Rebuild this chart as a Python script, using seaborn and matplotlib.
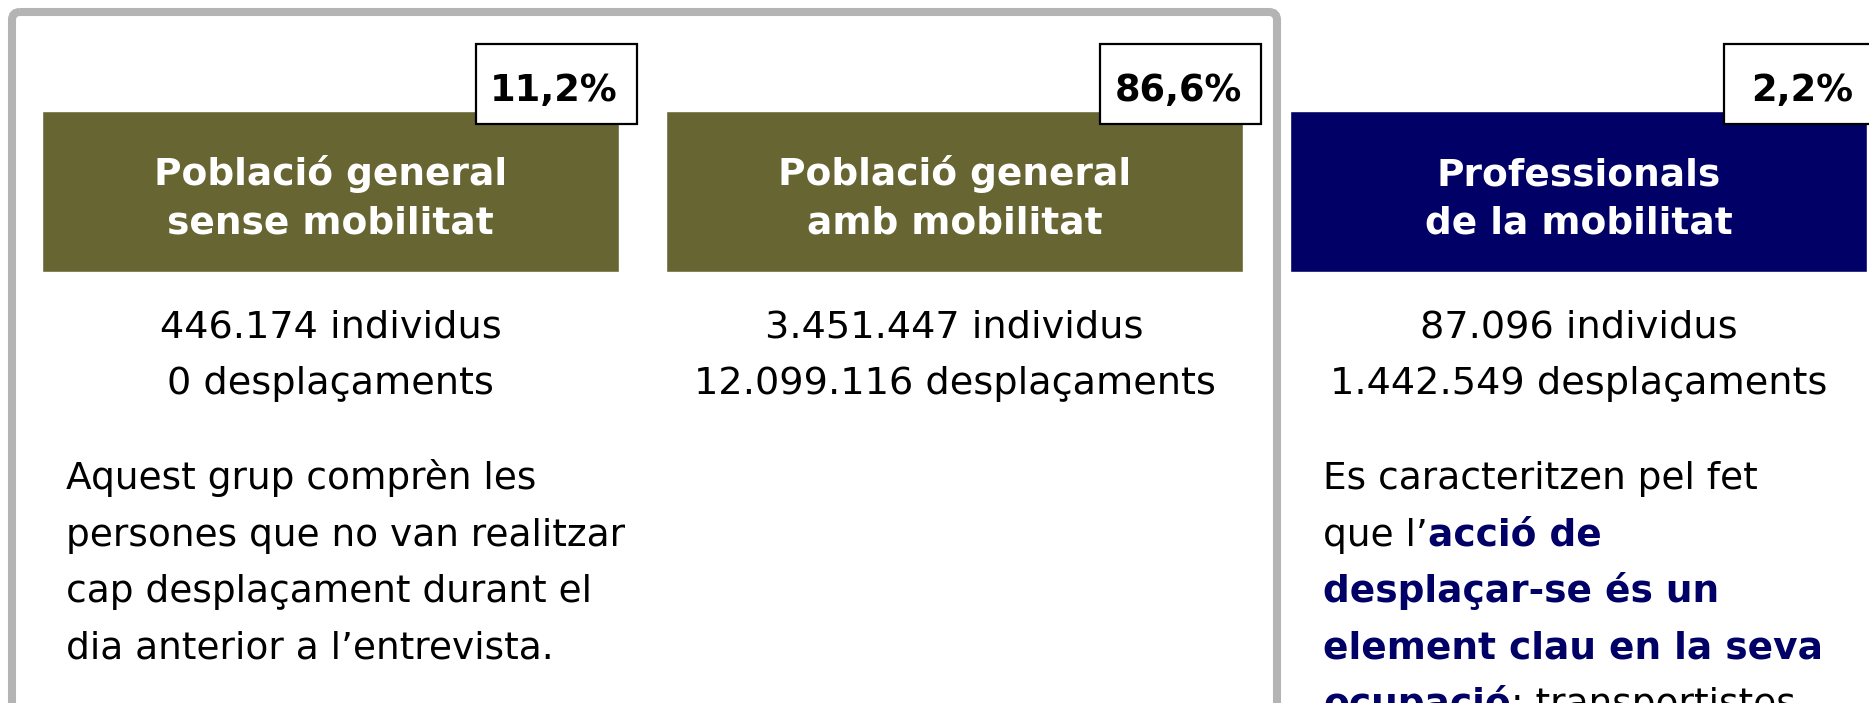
import matplotlib
matplotlib.use("Agg")
import matplotlib.pyplot as plt
from matplotlib.patches import Rectangle, FancyBboxPatch
import seaborn as sns

# dades
groups = ["Població general\nsense mobilitat",
          "Població general\namb mobilitat",
          "Professionals\nde la mobilitat"]
shares = ["11,2%", "86,6%", "2,2%"]
individus = ["446.174", "3.451.447", "87.096"]
desplacaments = ["0", "12.099.116", "1.442.549"]

desc_left = ["Aquest grup comprèn les",
             "persones que no van realitzar",
             "cap desplaçament durant el",
             "dia anterior a l’entrevista."]
# (text, negreta) per línia
desc_right = [[("Es caracteritzen pel fet", False)],
              [("que l’", False), ("acció de", True)],
              [("desplaçar-se és un", True)],
              [("element clau en la seva", True)],
              [("ocupació", True), (": transportistes", False)]]

olive = "#676633"
navy = "#000066"
box_colors = [olive, olive, navy]

sns.set_theme(style="white")
plt.rcParams['font.family'] = ['DejaVu Sans']

W, H = 1869, 703
fig = plt.figure(figsize=(W / 100, H / 100), dpi=100)
ax = fig.add_axes([0, 0, 1, 1])
ax.set_xlim(0, W)
ax.set_ylim(H, 0)
ax.axis("off")

# marc gris al voltant dels dos primers grups
frame = FancyBboxPatch((12, 12), 1265, 760, boxstyle="round,pad=0,rounding_size=8",
                       facecolor="none", edgecolor="#b4b4b4", linewidth=5.8, zorder=1)
ax.add_patch(frame)

box_left = [42, 666, 1290]
box_w, box_top, box_h = 577, 111, 161
centers = [l + box_w / 2 for l in box_left]

ax.bar(centers, box_h, width=box_w, bottom=box_top, color=box_colors, zorder=2)

for i, c in enumerate(centers):
    l1, l2 = groups[i].split("\n")
    ax.text(c, 185, l1, ha="center", va="baseline", color="white",
            fontsize=27, fontweight="bold", zorder=3)
    ax.text(c, 234, l2, ha="center", va="baseline", color="white",
            fontsize=27, fontweight="bold", zorder=3)

    # requadre de percentatge
    px = box_left[i] + 434
    ax.add_patch(Rectangle((px, 44), 161, 80, facecolor="white",
                           edgecolor="black", linewidth=1.6, zorder=4))
    ax.text(px + 78, 101, shares[i], ha="center", va="baseline",
            fontsize=26.5, fontweight="bold", color="black", zorder=5)

    ax.text(c, 337, f"{individus[i]} individus", ha="center", va="baseline",
            fontsize=27.5, color="black", zorder=3)
    ax.text(c, 394, f"{desplacaments[i]} desplaçaments", ha="center",
            va="baseline", fontsize=27.5, color="black", zorder=3)

for k, line in enumerate(desc_left):
    ax.text(66, 489 + 56.5 * k, line, ha="left", va="baseline",
            fontsize=27, color="black")

for k, segs in enumerate(desc_right):
    prev = None
    for txt, bold in segs:
        kw = dict(fontsize=27, fontweight="bold" if bold else "normal",
                  color=navy if bold else "black")
        if prev is None:
            prev = ax.text(1323, 489 + 56.5 * k, txt, ha="left", va="baseline", **kw)
        else:
            prev = ax.annotate(txt, xy=(1, 0), xycoords=prev, ha="left",
                               va="bottom", **kw)

fig.savefig("out.png", dpi=100)
